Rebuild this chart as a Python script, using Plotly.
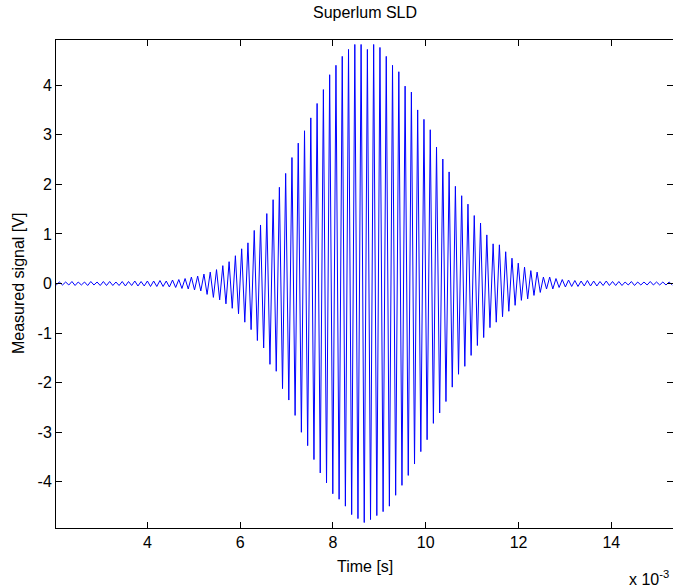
import numpy as np
import plotly.graph_objects as go

# Sampling of the extrema (half-period grid), seconds
t_first = 2.035e-3
half_period = 0.06775e-3

# Upper (positive) peak values, V
upper_peaks = [
    0.03, 0.03, 0.04, 0.03, 0.03, 0.04, 0.03, 0.04, 0.04, 0.03,
    0.04, 0.04, 0.05, 0.04, 0.05, 0.05, 0.06, 0.05, 0.07, 0.08,
    0.10, 0.13, 0.15, 0.19, 0.23, 0.28, 0.36, 0.44, 0.56, 0.70,
    0.82, 1.07, 1.18, 1.41, 1.69, 1.94, 2.22, 2.54, 2.83, 3.08,
    3.34, 3.63, 3.91, 4.21, 4.40, 4.58, 4.72, 4.82, 4.82, 4.72,
    4.82, 4.76, 4.58, 4.40, 4.27, 3.98, 3.86, 3.50, 3.31, 3.10,
    2.75, 2.51, 2.25, 1.96, 1.77, 1.60, 1.37, 1.22, 0.98, 0.80,
    0.78, 0.64, 0.51, 0.41, 0.33, 0.26, 0.23, 0.13, 0.13, 0.10,
    0.08, 0.07, 0.06, 0.05, 0.06, 0.05, 0.04, 0.05, 0.04, 0.04,
    0.03, 0.04, 0.03, 0.03, 0.04, 0.03, 0.03, 0.03,
]

# Lower (negative) peak values, V
lower_peaks = [
    -0.03, -0.03, -0.03, -0.04, -0.03, -0.04, -0.03, -0.04, -0.04, -0.04,
    -0.04, -0.05, -0.04, -0.05, -0.05, -0.06, -0.06, -0.06, -0.07, -0.08,
    -0.10, -0.11, -0.13, -0.15, -0.22, -0.28, -0.33, -0.41, -0.50, -0.61,
    -0.78, -0.93, -1.15, -1.30, -1.63, -1.77, -2.12, -2.35, -2.66, -3.00,
    -3.27, -3.55, -3.82, -4.02, -4.24, -4.35, -4.49, -4.66, -4.74, -4.82,
    -4.76, -4.68, -4.60, -4.49, -4.27, -4.07, -3.87, -3.64, -3.39, -3.15,
    -2.82, -2.61, -2.38, -2.09, -1.83, -1.67, -1.45, -1.25, -1.09, -0.89,
    -0.78, -0.67, -0.56, -0.44, -0.34, -0.31, -0.24, -0.18, -0.11, -0.11,
    -0.08, -0.07, -0.06, -0.06, -0.05, -0.05, -0.05, -0.04, -0.04, -0.04,
    -0.04, -0.03, -0.04, -0.03, -0.03, -0.03, -0.03, -0.03, -0.03,
]

x_tick_vals = [4, 6, 8, 10, 12, 14]
y_tick_vals = [-4, -3, -2, -1, 0, 1, 2, 3, 4]

# interleave: lower, upper, lower, upper, ..., lower
signal = []
for k in range(len(lower_peaks)):
    signal.append(lower_peaks[k])
    if k < len(upper_peaks):
        signal.append(upper_peaks[k])
signal = np.array(signal)
time = t_first + half_period * np.arange(len(signal))

FONT = "Liberation Sans, Arial, sans-serif"
FS = 16

fig = go.Figure()
fig.add_trace(go.Scatter(x=time, y=signal, mode="lines",
                         line=dict(color="#0000ff", width=1),
                         showlegend=False, hoverinfo="skip"))

fig.update_layout(
    width=673, height=588,
    margin=dict(l=56, r=0, t=40, b=60, autoexpand=False),
    paper_bgcolor="white", plot_bgcolor="white",
    font=dict(family=FONT, size=FS, color="black"),
    showlegend=False,
)

fig.update_xaxes(
    range=[2.03e-3, 15.33e-3],
    tickvals=[v * 1e-3 for v in x_tick_vals],
    ticktext=[str(v) for v in x_tick_vals],
    ticks="inside", ticklen=6, tickcolor="black", tickwidth=1,
    showline=True, linecolor="black", linewidth=1, mirror="ticks",
    showgrid=False, zeroline=False, automargin=False,
    tickfont=dict(size=FS),
)
fig.update_yaxes(
    range=[-4.93, 4.91],
    tickvals=y_tick_vals,
    ticktext=[str(v) for v in y_tick_vals],
    ticks="inside", ticklen=6, tickcolor="black", tickwidth=1,
    showline=True, linecolor="black", linewidth=1, mirror="ticks",
    showgrid=False, zeroline=False, automargin=False,
    tickfont=dict(size=FS),
)

plot_h = 588 - 40 - 60
plot_w = 673 - 56
fig.add_annotation(text="Superlum SLD", xref="paper", yref="paper",
                   x=0.5, y=1 + (40 - 12) / plot_h, showarrow=False,
                   xanchor="center", yanchor="middle", font=dict(size=FS))
fig.add_annotation(text="Time [s]", xref="paper", yref="paper",
                   x=0.5, y=-(566 - 528) / plot_h, showarrow=False,
                   xanchor="center", yanchor="middle", font=dict(size=FS))
fig.add_annotation(text="Measured signal [V]", xref="paper", yref="paper",
                   x=-(56 - 18) / plot_w, y=0.5, showarrow=False, textangle=-90,
                   xanchor="center", yanchor="middle", font=dict(size=FS))
fig.add_annotation(text="x 10<sup>-3</sup>", xref="paper", yref="paper",
                   x=(627 - 56) / plot_w, y=-(578 - 528) / plot_h, showarrow=False,
                   xanchor="left", yanchor="middle", font=dict(size=FS))

fig.write_html("out.html",
               config={"displayModeBar": False, "staticPlot": True},
               post_script="document.body.style.margin='0';document.body.style.padding='0';")
